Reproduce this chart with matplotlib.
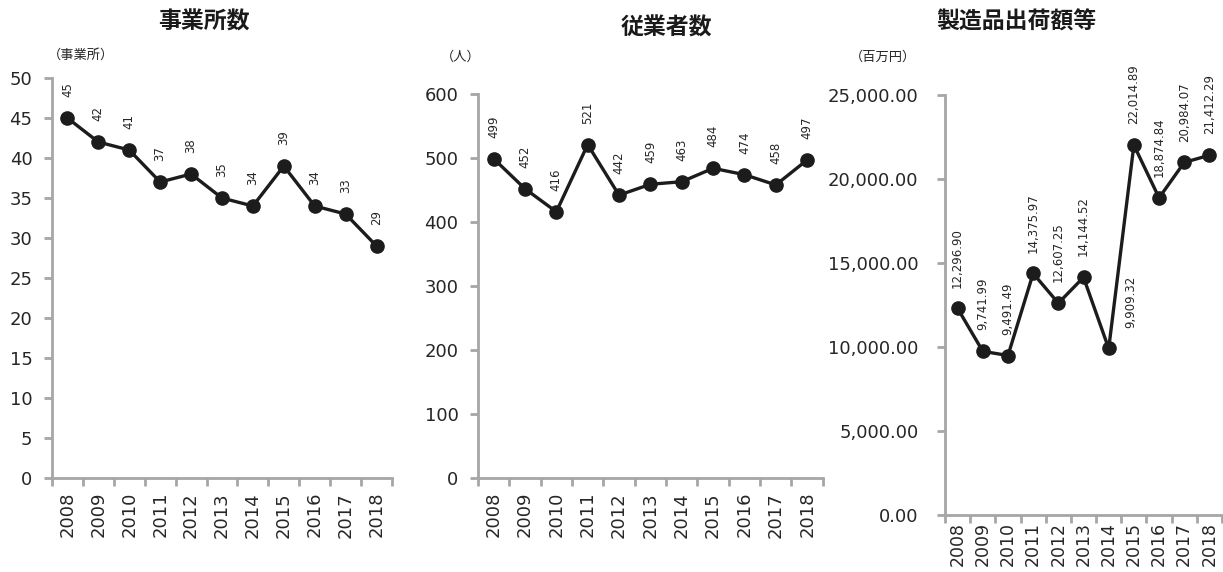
import matplotlib
matplotlib.use('Agg')
from matplotlib import pyplot as plt
from matplotlib.ticker import FixedLocator, FuncFormatter

plt.rcParams['font.family'] = ['DejaVu Sans', 'Noto Sans CJK JP']

years = ['2008', '2009', '2010', '2011', '2012', '2013', '2014', '2015', '2016', '2017', '2018']
jigyosho = [45, 42, 41, 37, 38, 35, 34, 39, 34, 33, 29]
jugyosha = [499, 452, 416, 521, 442, 459, 463, 484, 474, 458, 497]
shukka = [12296.90, 9741.99, 9491.49, 14375.97, 12607.25, 14144.52, 9909.32,
          22014.89, 18874.84, 20984.07, 21412.29]

titles = ['事業所数', '従業者数', '製造品出荷額等']
units = ['（事業所）', '（人）', '（百万円）']

SPINE = '#a6a6a6'
LINE = '#1c1c1c'
TXT = '#262626'

fig = plt.figure(figsize=(12.23, 5.72), dpi=100)

# axes rectangles (figure fraction)
rects = [
    [0.0425, 0.1643, 0.278, 0.6993],
    [0.3908, 0.1643, 0.282, 0.6713],
    [0.7727, 0.0997, 0.2265, 0.7343],
]
ylims = [(0, 50, 5), (0, 600, 100), (0, 25000, 5000)]
ypads = [8, 8, 13]
xpads = [10, 10, 5]
xsizes = [13, 13, 12.5]


def fmt_int(v, pos=None):
    return f'{int(round(v))}'


def fmt_money(v, pos=None):
    return f'{v:,.2f}'


def draw(ax, values, ylim, ypad, xpad, xsize, fmt, label_shift=None):
    xs = list(range(len(values)))
    ax.plot(xs, values, color=LINE, lw=2.4, marker='o', ms=9.5, zorder=3)
    ax.set_xlim(-0.5, len(values) - 0.5)
    lo, hi, step = ylim
    ax.set_ylim(lo, hi)
    ax.yaxis.set_major_locator(FixedLocator(list(range(lo, hi + 1, step))))
    ax.yaxis.set_major_formatter(FuncFormatter(fmt))

    ax.set_xticks(xs)
    ax.set_xticklabels(years, rotation=90)
    ax.set_xticks([i - 0.5 for i in range(len(values) + 1)], minor=True)
    ax.tick_params(axis='x', which='major', length=0, pad=xpad, labelsize=xsize, labelcolor=TXT)
    ax.tick_params(axis='x', which='minor', length=6, width=2, color=SPINE, direction='out')
    ax.tick_params(axis='y', length=6, width=2, color=SPINE, pad=ypad, labelsize=13, labelcolor=TXT)

    for s in ['top', 'right']:
        ax.spines[s].set_visible(False)
    for s in ['left', 'bottom']:
        ax.spines[s].set_color(SPINE)
        ax.spines[s].set_linewidth(2)

    for i, v in enumerate(values):
        dx = 0
        if label_shift and i in label_shift:
            dx = label_shift[i]
        ax.annotate(fmt(v), (i, v), xytext=(dx, 15), textcoords='offset points',
                    rotation=90, ha='center', va='bottom', fontsize=8.5, color=TXT)


series = [jigyosho, jugyosha, shukka]
fmts = [fmt_int, fmt_int, fmt_money]
shifts = [None, None, {6: 16}]

for k in range(3):
    ax = fig.add_axes(rects[k])
    draw(ax, series[k], ylims[k], ypads[k], xpads[k], xsizes[k], fmts[k], shifts[k])

title_pos = [(0.167, 0.961), (0.545, 0.951), (0.831, 0.961)]
unit_pos = [(0.066, 0.904), (0.377, 0.900), (0.722, 0.900)]
for k in range(3):
    fig.text(title_pos[k][0], title_pos[k][1], titles[k], ha='center', va='center',
             fontsize=16.5, fontweight='bold', family=['Noto Sans CJK JP'], color='#1a1a1a')
    fig.text(unit_pos[k][0], unit_pos[k][1], units[k], ha='center', va='center',
             fontsize=9.5, family=['Noto Sans CJK JP'], color=TXT)

fig.savefig('out.png', dpi=100)
